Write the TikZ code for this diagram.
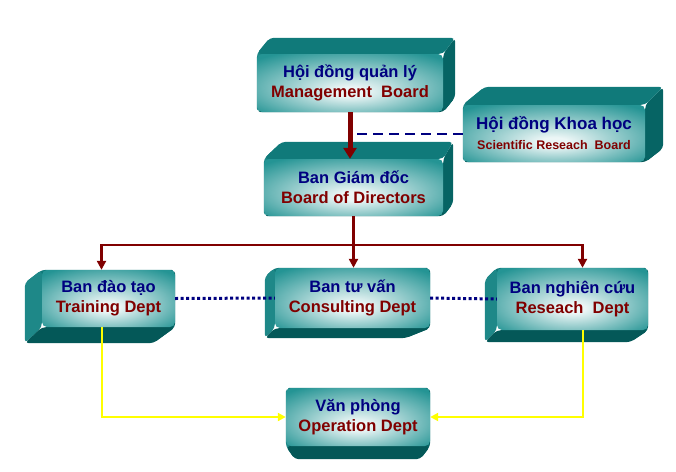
\documentclass[tikz,border=0pt]{standalone}
\usepackage{fontspec}
\setmainfont{Liberation Sans}
\usetikzlibrary{arrows.meta,calc,backgrounds}
\definecolor{vnBlue}{RGB}{0,0,128}
\definecolor{vnRed}{RGB}{128,0,0}
\definecolor{glowIn}{RGB}{236,246,246}
\definecolor{glowOut}{RGB}{36,148,148}
\definecolor{topFace}{RGB}{16,122,122}
\definecolor{sideFace}{RGB}{6,100,100}
\definecolor{leftFace}{RGB}{30,136,136}
\definecolor{bottomFace}{RGB}{4,88,88}
\definecolor{feedYellow}{RGB}{255,255,0}
\pgfdeclareradialshading{glow}{\pgfpoint{0bp}{-8bp}}{color(0bp)=(glowIn); color(4bp)=(glowIn); color(34bp)=(glowOut); color(50bp)=(glowOut)}

\begin{document}
\begin{tikzpicture}[x=1pt, y=-1pt,
    box/.style={shade, shading=glow, rounded corners=5pt, inner sep=0pt, align=center,
        text=vnBlue, font=\bfseries\fontsize{16.5}{20}\selectfont},
    boss/.style={line width=5pt, vnRed, -{Triangle[length=11pt,width=13pt]}},
    tree/.style={line width=2.5pt, vnRed, -{Triangle[length=9pt,width=9pt]}},
    kline/.style={line width=2pt, vnBlue, dash pattern=on 10pt off 6pt},
    dots/.style={line width=3pt, vnBlue, dash pattern=on 3pt off 2.5pt},
    feed/.style={line width=2pt, feedYellow, -{Triangle[length=8pt,width=8pt]}}]
    % name, shift left, shift right, shift top, shift bottom, faces
    \newcommand\slab[6]{
        \coordinate (#1-a) at (#1.north west);
        \coordinate (#1-b) at (#1.north east);
        \coordinate (#1-c) at (#1.south east);
        \coordinate (#1-d) at (#1.south west);
        \coordinate (#1-a2) at ($(#1-a)+(#2,#4)$);
        \coordinate (#1-b2) at ($(#1-b)+(#3,#4)$);
        \coordinate (#1-c2) at ($(#1-c)+(#3,#5)$);
        \coordinate (#1-d2) at ($(#1-d)+(#2,#5)$);
        \foreach \p/\q/\col in {#6}
            \fill[\col, rounded corners=4pt] (#1-\p) -- (#1-\q) -- (#1-\q2) -- (#1-\p2) -- cycle;
    }

    \useasboundingbox (0,0) rectangle (676,471);

    \node[box, minimum width=186pt, minimum height=58pt] (mg) at (350,83)
        {Hội đồng quản lý\\\textcolor{vnRed}{Management~~Board}};
    \node[box, minimum width=182pt, minimum height=57pt] (kh) at (554,133.5)
        {\fontsize{17}{20}\selectfont Hội đồng Khoa học\\{\fontsize{12.5}{15}\selectfont\textcolor{vnRed}{Scientific Reseach~~Board}}};
    \node[box, minimum width=179pt, minimum height=57pt] (dir) at (353.5,187.5)
        {Ban Giám đốc\\\textcolor{vnRed}{Board of Directors}};
    \node[box, minimum width=133pt, minimum height=57pt] (tr) at (108.5,298.5)
        {Ban đào tạo\\\textcolor{vnRed}{Training Dept}};
    \node[box, minimum width=155pt, minimum height=60pt] (co) at (352.5,298)
        {Ban tư vấn\\\textcolor{vnRed}{Consulting Dept}};
    \node[box, minimum width=151pt, minimum height=62pt] (re) at (572.5,299)
        {Ban nghiên cứu\\\textcolor{vnRed}{Reseach~~Dept}};
    \node[box, minimum width=144pt, minimum height=58pt] (op) at (358,417)
        {Văn phòng\\\textcolor{vnRed}{Operation Dept}};

    \begin{scope}[on background layer]
        \slab{mg}{13}{12}{-16}{-15}{c/d/bottomFace, d/a/leftFace, b/c/sideFace, a/b/topFace}
        \slab{kh}{22}{18}{-18}{-14}{c/d/bottomFace, d/a/leftFace, b/c/sideFace, a/b/topFace}
        \slab{dir}{18}{10}{-17}{-13}{c/d/bottomFace, d/a/leftFace, b/c/sideFace, a/b/topFace}
        \slab{tr}{-17}{-22}{13}{16}{a/b/topFace, b/c/sideFace, d/a/leftFace, c/d/bottomFace}
        \slab{co}{-10}{-25}{9}{10}{a/b/topFace, b/c/sideFace, d/a/leftFace, c/d/bottomFace}
        \slab{re}{-12}{-18}{12}{12}{a/b/topFace, b/c/sideFace, d/a/leftFace, c/d/bottomFace}
        \slab{op}{9}{-10}{5}{13}{a/b/topFace, d/a/leftFace, b/c/sideFace, c/d/bottomFace}
    \end{scope}

    % draw arrow
    \draw[kline] (kh.west) -- (kh.west -| mg.south);
    \draw[boss] (mg.south) -- (mg.south |- dir.north);

    \coordinate (split) at ($(dir.south)+(0,29)$);
    \draw[vnRed, line width=2.5pt] (dir.south) -- (split);
    \draw[tree] (split) -| ([xshift=-7pt]tr.north);
    \draw[tree] (split) -- (split |- co.north);
    \draw[tree] (split) -| ([xshift=10pt]re.north);

    \draw[dots] (tr.east) -- (co.west);
    \draw[dots] (co.east) -- (re.west);

    \draw[feed] ([xshift=-7pt]tr.south) |- (op.west);
    \draw[feed] ([xshift=10pt]re.south) |- (op.east);
\end{tikzpicture}
\end{document}
